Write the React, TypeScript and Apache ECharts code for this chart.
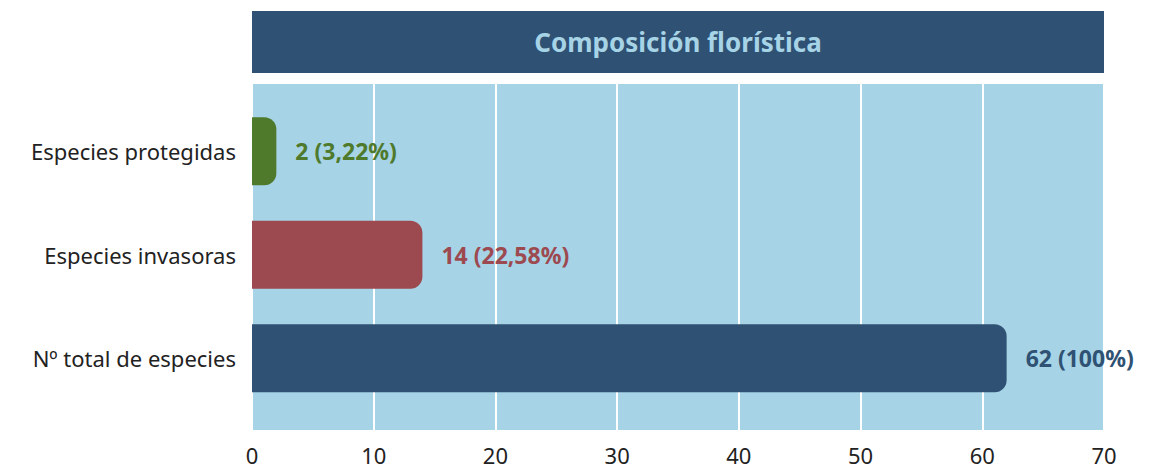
import React, { useEffect, useRef } from "react";
import * as echarts from "echarts";

const categories = ["Especies protegidas", "Especies invasoras", "Nº total de especies"];
const values = [2, 14, 62];
const valueLabels = ["2 (3,22%)", "14 (22,58%)", "62 (100%)"];
const barColors = ["#4f7a2c", "#9d4950", "#2f5173"];
const axisTicks = [0, 10, 20, 30, 40, 50, 60, 70];
const titleText = "Composición florística";

const FONT = "'Noto Sans', sans-serif";

export default function App() {
  const ref = useRef<HTMLDivElement>(null);
  useEffect(() => {
    if (!ref.current) return;
    const chart = echarts.init(ref.current, null, { renderer: "svg" });
    const left = 252;
    const right = 66;
    chart.setOption({
      animation: false,
      backgroundColor: "#ffffff",
      graphic: [
        {
          type: "rect",
          shape: { x: left, y: 11, width: 1170 - left - right, height: 62 },
          style: { fill: "#2f5173" },
          z: 0,
        },
        {
          type: "text",
          x: left + (1170 - left - right) / 2,
          y: 42,
          style: {
            text: titleText,
            fill: "#a6d3e6",
            font: `bold 26px ${FONT}`,
            textAlign: "center",
            textVerticalAlign: "middle",
          },
          z: 1,
        },
      ],
      grid: [
        {
          left,
          right,
          top: 84,
          height: 346,
          show: true,
          backgroundColor: "#a6d3e6",
          borderWidth: 0,
        },
        {
          left,
          right,
          top: 99.5,
          height: 310.5,
        },
      ],
      xAxis: [
        {
          type: "value",
          gridIndex: 0,
          min: axisTicks[0],
          max: axisTicks[axisTicks.length - 1],
          interval: 10,
          axisLine: { show: false },
          axisTick: { show: false },
          splitLine: { show: true, lineStyle: { color: "#ffffff", width: 2 } },
          axisLabel: {
            color: "#222222",
            fontSize: 22,
            fontFamily: FONT,
            margin: 14,
          },
        },
        {
          type: "value",
          gridIndex: 1,
          min: axisTicks[0],
          max: axisTicks[axisTicks.length - 1],
          interval: 10,
          show: false,
          splitLine: { show: false },
        },
      ],
      yAxis: [
        {
          type: "value",
          gridIndex: 0,
          show: false,
          splitLine: { show: false },
        },
        {
          type: "category",
          gridIndex: 1,
          inverse: true,
          data: categories,
          axisLine: { show: false },
          axisTick: { show: false },
          splitLine: { show: false },
          axisLabel: {
            color: "#222222",
            fontSize: 22,
            fontFamily: FONT,
            margin: 16,
          },
        },
      ],
      series: [
        {
          type: "bar",
          xAxisIndex: 1,
          yAxisIndex: 1,
          barWidth: 68,
          data: values.map((v, i) => ({
            value: v,
            itemStyle: { color: barColors[i], borderRadius: [0, 12, 12, 0] },
            label: {
              show: true,
              position: "right",
              distance: 19,
              formatter: valueLabels[i],
              color: barColors[i],
              fontSize: 23,
              fontWeight: "bold",
              fontFamily: FONT,
            },
          })),
        },
      ],
    });
    return () => chart.dispose();
  }, []);
  return (
    <div
      ref={ref}
      style={{ position: "absolute", left: 0, top: 0, width: 1170, height: 472 }}
    />
  );
}
